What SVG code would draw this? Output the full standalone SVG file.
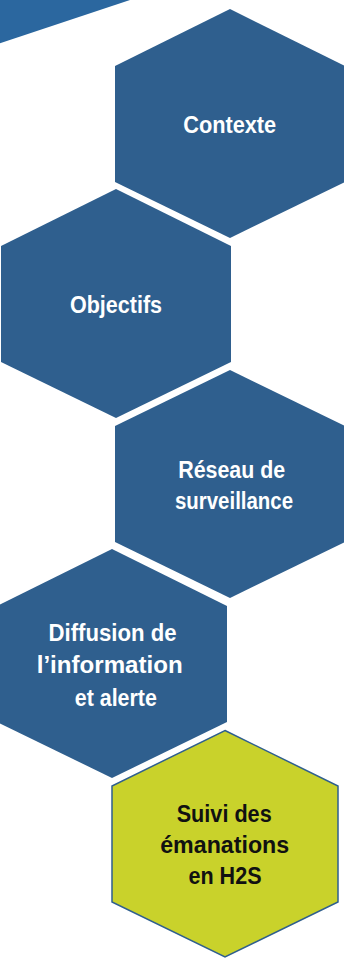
<svg xmlns="http://www.w3.org/2000/svg" width="344" height="959" viewBox="0 0 344 959">
<style>
.hex{fill:#2F5F8E;}
.hexg{fill:#C9D22B;stroke:#2F5F8E;stroke-width:1.5;}
.t{font-family:"Liberation Sans",Arial,sans-serif;font-weight:bold;font-size:23px;fill:#FFFFFF;text-anchor:middle;}
.tk{fill:#111111;}
</style>
<rect width="344" height="959" fill="#FFFFFF"/>
<polygon id="band" points="0,0 130,0 0,43.3" fill="#2B679F"/>
<g id="contexte">
<polygon class="hex" points="230,9 345,66 345,182 230,238 115,182 115,66"/>
<text class="t" x="229.7" y="133" textLength="93" lengthAdjust="spacingAndGlyphs">Contexte</text>
</g>
<g id="objectifs">
<polygon class="hex" points="116,189 231,246 231,362 116,418 1,362 1,246"/>
<text class="t" x="116" y="313" textLength="92" lengthAdjust="spacingAndGlyphs">Objectifs</text>
</g>
<g id="reseau">
<polygon class="hex" points="230,370 345,426 345,542 230,598 115,542 115,426"/>
<text class="t" x="231.7" y="477.5" textLength="107" lengthAdjust="spacingAndGlyphs">Réseau de</text>
<text class="t" x="234" y="508.5" textLength="118" lengthAdjust="spacingAndGlyphs">surveillance</text>
</g>
<g id="diffusion">
<polygon class="hex" points="112,549 227,606 227,722 112,778 -3,722 -3,606"/>
<text class="t" x="112.5" y="641" textLength="128" lengthAdjust="spacingAndGlyphs">Diffusion de</text>
<text class="t" x="109.7" y="673.3" textLength="146" lengthAdjust="spacingAndGlyphs">l’information</text>
<text class="t" x="115.8" y="705.5" textLength="82" lengthAdjust="spacingAndGlyphs">et alerte</text>
</g>
<g id="suivi">
<polygon class="hexg" points="225,730.5 338,786 338,902 225,957 112,902 112,786"/>
<text class="t tk" x="224.2" y="821.7" textLength="95" lengthAdjust="spacingAndGlyphs">Suivi des</text>
<text class="t tk" x="224.7" y="853.3" textLength="129" lengthAdjust="spacingAndGlyphs">émanations</text>
<text class="t tk" x="225" y="884.3" textLength="73" lengthAdjust="spacingAndGlyphs">en H2S</text>
</g>
</svg>
